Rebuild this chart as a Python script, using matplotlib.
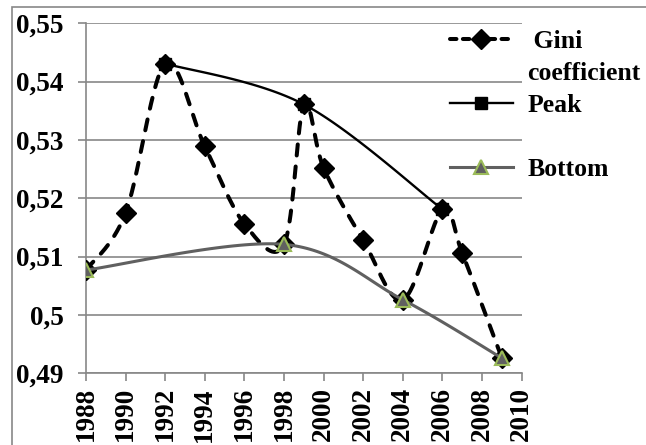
import numpy as np
import matplotlib
matplotlib.use("Agg")
import matplotlib.pyplot as plt
from matplotlib.lines import Line2D
from matplotlib.patches import Rectangle

# Gini coefficient by year
years = [1988, 1990, 1992, 1994, 1996, 1998, 1999, 2000, 2002, 2004, 2006, 2007, 2009]
gini = [0.5077, 0.5175, 0.5431, 0.5289, 0.5156, 0.5121, 0.5361, 0.5252, 0.5128, 0.5026, 0.5181, 0.5106, 0.4926]

# local maxima and minima of the series
peak_years = [1992, 1999, 2006]
peak_vals = [0.5431, 0.5361, 0.5181]
bottom_years = [1988, 1998, 2004, 2009]
bottom_vals = [0.5077, 0.5121, 0.5026, 0.4926]

xticks = list(range(1988, 2011, 2))
yticks = [0.49, 0.50, 0.51, 0.52, 0.53, 0.54, 0.55]
ytick_labels = ["0,49", "0,5", "0,51", "0,52", "0,53", "0,54", "0,55"]

W, H, DPI = 646, 445, 100
plt.rcParams["font.family"] = ["Liberation Serif", "DejaVu Serif"]
plt.rcParams["font.weight"] = "bold"

fig = plt.figure(figsize=(W / DPI, H / DPI), dpi=DPI)
L, R, T, B = 86, 521.7, 23.3, 373.3
ax = fig.add_axes([L / W, 1 - B / H, (R - L) / W, (B - T) / H])
ax.set_xlim(1988, 2010)
ax.set_ylim(0.49, 0.55)

# pixels per data unit, used so the smoothing works in screen space
sx = (R - L) / 22.0
sy = (B - T) / 0.06


def smooth(xs, ys, n=40):
    # Catmull-Rom style bezier through the points (spreadsheet "smoothed line")
    P = np.column_stack([np.asarray(xs, float) * sx, np.asarray(ys, float) * sy])
    pad = np.vstack([P[0], P, P[-1]])
    t = np.linspace(0, 1, n)[:, None]
    out = []
    for i in range(len(P) - 1):
        p0, p1, p2, p3 = pad[i], pad[i + 1], pad[i + 2], pad[i + 3]
        c1 = p1 + (p2 - p0) / 6.0
        c2 = p2 - (p3 - p1) / 6.0
        seg = (1 - t) ** 3 * p1 + 3 * (1 - t) ** 2 * t * c1 + 3 * (1 - t) * t ** 2 * c2 + t ** 3 * p2
        out.append(seg if i == 0 else seg[1:])
    pts = np.vstack(out)
    return pts[:, 0] / sx, pts[:, 1] / sy


grey = "#878787"
line_grey = "#606060"
green = "#9bbb59"
dash = (0, (2.75, 2.75))

gx, gy = smooth(years, gini)
ax.plot(gx, gy, color="black", lw=2.9, linestyle=dash,
        dash_capstyle="round", zorder=3)
ax.plot(years, gini, linestyle="none", marker="D", ms=10, color="black", zorder=4)

px, py = smooth(peak_years, peak_vals)
ax.plot(px, py, color="black", lw=1.7, zorder=5)
ax.plot(peak_years, peak_vals, linestyle="none", marker="s", ms=9, color="black", zorder=5)

bx, by = smooth(bottom_years, bottom_vals)
ax.plot(bx, by, color=line_grey, lw=2.2, zorder=6)
ax.plot(bottom_years, bottom_vals, linestyle="none", marker="^", ms=9.5,
        markerfacecolor=line_grey, markeredgecolor=green, markeredgewidth=1.5, zorder=7)

ax.set_xticks(xticks)
ax.set_xticklabels([str(y) for y in xticks], rotation=90, fontsize=19.5, fontweight="bold")
ax.set_yticks(yticks)
ax.set_yticklabels(ytick_labels, fontsize=19.5, fontweight="bold")
ax.tick_params(axis="x", direction="out", length=6, width=1.2, color=grey, pad=4)
ax.tick_params(axis="y", direction="out", length=6, width=1.2, color=grey, pad=10)
ax.grid(axis="y", color=grey, lw=1.2)
ax.set_axisbelow(True)
for s in ("top", "right"):
    ax.spines[s].set_visible(False)
for s in ("left", "bottom"):
    ax.spines[s].set_color(grey)
    ax.spines[s].set_linewidth(1.2)

# legend: blank rows give the uneven spacing and the wrapped Gini label
h_gini = Line2D([], [], color="black", lw=2.9, linestyle=(0, (1.6, 1.6)),
                dash_capstyle="round", marker="D", ms=10)
h_peak = Line2D([], [], color="black", lw=1.7, marker="s", ms=9)
h_bot = Line2D([], [], color=line_grey, lw=2.2, marker="^", ms=9.5,
               markerfacecolor=line_grey, markeredgecolor=green, markeredgewidth=1.5)
h_blank = Line2D([], [], color="none")
leg = ax.legend([h_gini, h_blank, h_peak, h_blank, h_bot],
                [" Gini", "coefficient", "Peak", "", "Bottom"],
                loc="upper left", bbox_to_anchor=(450 / W, 1 - 30 / H),
                bbox_transform=fig.transFigure, frameon=False,
                prop={"family": "Liberation Serif", "weight": "bold", "size": 18.5},
                handlelength=2.45, handletextpad=0.55, labelspacing=0.35,
                borderpad=0, borderaxespad=0)

# outer chart frame
fig.add_artist(Rectangle((12 / W, -0.1), 1.2, 1.1 - 7 / H, transform=fig.transFigure,
                         fill=False, edgecolor=grey, lw=1.2))

fig.savefig("out.png", dpi=DPI)
